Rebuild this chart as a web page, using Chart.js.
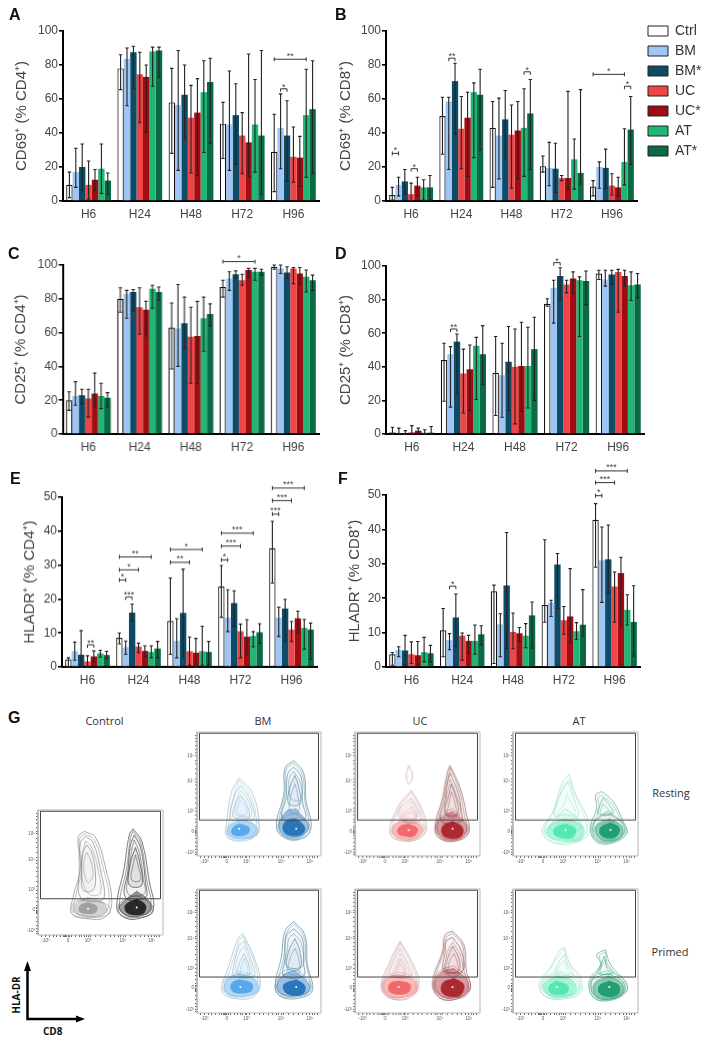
<!DOCTYPE html>
<html>
<head>
<meta charset="utf-8">
<title>T cell activation</title>
<script src="https://cdn.jsdelivr.net/npm/chart.js@4"></script>
<style>
  body { margin: 0; background: #fff; width: 709px; height: 1040px; position: relative; overflow: hidden; font-family: "Liberation Sans", Arial, sans-serif; }
  canvas { position: absolute; }
  .letter { position: absolute; font-weight: bold; font-size: 16px; color: #111; line-height: 16px; }
  .head { position: absolute; font-family: "Open Sans", sans-serif; font-size: 11px; color: #333; line-height: 14px; transform: translateX(-50%); }
  .axlab { position: absolute; font-family: "Open Sans", sans-serif; font-weight: bold; font-size: 10px; color: #111; line-height: 12px; }
  svg { position: absolute; left: 0; top: 0; }
</style>
</head>
<body>
<script>
const groups = ['H6', 'H24', 'H48', 'H72', 'H96'];
const seriesNames = ['Ctrl', 'BM', 'BM*', 'UC', 'UC*', 'AT', 'AT*'];
const seriesColors = ['#ffffff', '#9fc5f4', '#0e4b66', '#ee4547', '#a00c12', '#1fb676', '#0a6a44'];

// every row is one time point, every column one series
const aMeans = [[9.5,17,20,9.5,12.5,19,12],[78,83.5,87.5,74.5,73,88,88.5],[58,56.5,62.5,49,52,64,70],[45.5,45,50.5,38.5,34.5,45,38.5],[29,43,38.5,26,25.5,50.5,54]];
const aLow = [[2,8,6,1,6,4.5,4],[65.5,56,66,46,40.5,67.5,73],[28,18,37,16.5,15,28.5,34],[25,18,21.5,16,14.5,17,4],[5.5,19,11.5,11,8.5,14,16]];
const aHigh = [[17,31,33.5,23.5,18.5,33.5,16.5],[86,90,91,87.5,80,90.5,90.5],[78,88.5,80,68,72,82.5,84],[58,76.5,69,52,86.5,71.5,88.5],[51,63,59,43.5,38,77.5,82.5]];
const aSig = [[4,0,5,83.4,'**','h'],[4,1,2,66,'*','b']];

const bMeans = [[3.5,9.5,11.5,4,9,8,8],[50,58.5,70.5,42.5,49,64,62.5],[43,38.5,48,39,41.5,43,51.5],[20.5,19.5,19,13.5,13.5,24.5,16.5],[8.5,20,19.5,9,8,23,42]];
const bLow = [[0.5,3,4,0,3,0.5,0.5],[27.5,18.5,39.5,19,14.5,25.5,30],[8,13,25,7.5,13,14.5,18.5],[17,9,5,12,7,7,10],[3,7.5,7.5,3.5,3,9.5,21.5]];
const bHigh = [[8,14,18.5,10.5,14,12.5,15],[61,61,81,61.5,64,69.5,77.5],[58.5,60.5,65,56.5,58.5,66,71.5],[26.5,34.5,34,15,64.5,36.5,65.5],[12,23,30.5,16,14,42.5,61.5]];
const bSig = [[0,0,1,28,'*','h'],[0,3,4,19,'*','b'],[1,1,2,84,'**','b'],[2,5,6,76,'*','b'],[4,0,5,74.5,'*','h'],[4,5,6,67.5,'*','b']];

const cMeans = [[20,22.5,23,21,24,22.5,21.5],[80,83,84,75,73.5,86,84],[63,62.5,65.5,57.5,58,68.5,71],[87,92,94.5,91,97,96,96],[99,98,95.5,98,95,93,91]];
const cLow = [[14,17,18,10,16,15,16],[72,68.5,73,59,58,74.5,79],[38.5,40,50.5,30,30,49,64],[81,85,92,88,93,91,94],[97.5,95,92,89,89,84,85]];
const cHigh = [[25,31,26.5,26.5,36,30,24.5],[86.5,85,85.5,86.5,78.5,88,87],[77.5,88.5,81,75,78.5,81,77],[91,96,96.5,94.5,98,98,97.5],[100,100,99,98.5,98.5,97,94]];
const cSig = [[3,0,5,102,'*','h']];

const dMeans = [[1,0.5,0.5,1,2,0.8,0.8],[44,47.5,55,36,38.5,52.5,47.5],[36.5,35,43,40,40.5,40.5,50.5],[77.5,87,94,89,92.5,91.5,91],[95.5,92,95,96.5,94,88.5,89]];
const dLow = [[0,0,0,0,0,0,0],[19.5,16,24,12.5,14,20.5,29.5],[11,10,14,6,13.5,15.5,20],[76,66,80,84,84,58,77],[92,88,89,72.5,88,79.5,81]];
const dHigh = [[4,3.5,2,5,3.5,2.5,4.5],[54,52,59.5,50.5,53,57.5,64.5],[58,54,64,62.5,66.5,63.5,69.5],[80.5,91.5,99,91.5,96.5,93.5,97],[97.5,97.5,97.5,98,97.5,96.5,95.5]];
const dSig = [[1,1,2,62.5,'**','b'],[3,1,2,102,'*','b']];

const eMeans = [[2.2,4.6,3.6,1.6,3.1,4,3.5],[8.6,5.8,16,6,4.7,4.4,5.4],[13.5,7.7,15.9,4.6,4.2,4.6,4.4],[23.7,14.5,18.8,10.5,8.9,9.1,10.2],[35,14.5,17.2,11,14.3,11.5,11]];
const eLow = [[0,2,0,0,1.5,2.9,2.5],[6.8,3.7,13.5,4.2,3,2.7,2.7],[3.7,2.7,2.8,0.4,0,0.5,0.3],[14.6,10.4,12,2.7,3.5,5.9,7],[24.7,9,7.6,7.5,10,5.2,2.2]];
const eHigh = [[2.7,7.3,10.7,3.3,4.7,4.9,4.6],[10,7.6,18.5,7,6.2,6.2,7.5],[26.2,14.2,28.8,8.8,8.4,12,7.5],[29.9,22.7,22.4,12.6,13.9,10.4,12.7],[42.9,17.6,19.9,13.4,16.4,14,12.9]];
const eSig = [[0,3,4,6.5,'**','b'],[1,1,2,20.6,'***','b'],[1,0,1,25.6,'*','h'],[1,0,3,28.6,'*','h'],[1,0,5,32.4,'**','h'],[2,0,3,30.8,'**','h'],[2,0,5,34.6,'*','h'],[3,0,1,31.5,'*','h'],[3,0,3,35.6,'***','h'],[3,0,5,39.4,'***','h'],[4,0,1,45,'***','h'],[4,0,3,49,'***','h'],[4,0,5,52.7,'***','h']];

const fMeans = [[3.7,5,4.8,3.7,3.4,4.3,4],[10.7,7.8,14.4,9.1,7.6,7.6,9.5],[22,12.4,23.7,10.2,9.8,9.1,15],[18,18.7,29.8,13.6,14.7,10.4,12.3],[42.8,31,31.3,23.4,27.3,16.6,13.1]];
const fLow = [[0.5,3,0.5,1,0.5,1.5,1.5],[3,5,6,2,4,3.7,6.5],[1,3,5.3,5.3,7.5,5.6,5.5],[13,14.7,17,9.5,7.2,8,9],[29,18.8,21.6,13,12,12.2,3.2]];
const fHigh = [[4.2,5.9,9.2,7.3,7.4,8.6,6.3],[17,9.7,21.2,9.9,9.2,12.2,12],[23.8,15.5,39.1,15.7,11.5,12.6,18.9],[37,19.4,33,17.6,28.6,12.9,22.5],[47.5,40.7,41.3,27.6,31.9,21,23.6]];
const fSig = [[1,1,2,23.5,'*','b'],[4,0,1,49.8,'*','h'],[4,0,3,53.6,'***','h'],[4,0,5,57,'***','h']];

// flow plots: axis ticks and gate in percent of the plot frame
const flowTickLabels = ['-10³', '0', '10³', '10⁴', '10⁵'];
const flowXMajor = [6, 24, 40, 68, 91];
const flowYMajor = [3, 20, 36, 60, 81];
const flowXMinor = [3,9,12,15,18,20,21,22,23,25,27,30,33,35,37,39,42,46,50,54,58,61,64,66,70,74,78,82,85,88,93,95,97];
const flowYMinor = [1,5,8,11,14,17,18,19,21,22,24,27,30,33,39,43,47,51,54,57,62,66,70,74,77,83,86,89,92,95,97];
const gateLine = [2,29, 98,29, 98,99, 2,99, 2,29];
const frameLine = [0,0, 100,0, 100,100, 0,100, 0,0];

// contour outlines: outer, two inner, dense base, core (x,y,x,y,...)
const controlLeft = [[37,83,46,78,54,54,59,25,53,14,40,13,27,17,28,30,34,54,32,78],[38,79,44,74,50,52,53,30,47,27,34,30,33,52,34,74],[39,72,43,66,46,48,44,36,36,36,35,50,36,66],[40,30,52,26,55,19,47,15,36,15,29,19,31,26],[40,26,47,23,46,18,40,17,33,19,34,24]];
const controlRight = [[76,85,83,75,89,43,92,20,80,13,69,14,63,22,69,54,73,80],[77,80,82,70,86,42,86,30,70,30,72,52,74,72],[78,70,81,60,83,40,73,40,74,58],[79,35,89,27,90,19,80,15,70,16,65,22,70,28],[79,29,86,24,85,18,79,16,71,18,70,24]];
const bmRestLeft = [[34,63,45,50,50,26,47,16,34,12,24,16,24,28,28,52],[35,57,42,47,46,30,36,29,27,30,30,48],[35,49,40,42,42,31,35,30,29,32,31,42],[35,29,47,25,48,17,34,14,25,17,26,24],[34,26,42,23,41,18,34,16,28,18,29,23]];
const bmRestRight = [[78,77,86,67,88,44,92,23,84,14,72,14,64,23,70,50,71,71],[78,72,84,64,85,44,87,30,69,30,72,48,73,66],[79,65,82,56,83,42,74,42,75,56],[80,38,90,24,84,16,72,16,66,24,72,36],[80,30,87,23,84,17,73,17,69,23,73,29]];
const bmPrimLeft = [[37,64,46,45,51,24,45,13,29,12,20,18,26,39,33,60],[38,58,44,42,46,30,30,30,30,40,34,54],[38,48,42,38,42,30,33,31,34,40],[34,32,47,27,49,18,40,14,28,14,22,19,25,28],[34,27,44,24,44,18,35,16,28,18,28,24]];
const bmPrimRight = [[78,74,87,63,89,39,93,18,82,12,68,13,63,21,68,45,71,66],[78,68,85,60,86,40,86,30,70,30,71,44,72,62],[79,60,83,50,83,36,73,36,74,50],[79,34,90,24,90,17,80,14,68,15,64,22,70,31],[80,27,87,22,86,16,79,14,71,17,70,23]];
const ucRestLeft = [[45,53,53,39,57,22,51,14,38,12,28,18,34,39],[45,47,51,36,52,28,38,28,35,36],[45,40,49,32,45,29,38,30,39,34],[43,29,54,23,50,15,38,14,30,19,33,26],[43,26,50,22,47,16,39,16,34,19,36,24]];
const ucRestRight = [[76,73,84,55,89,34,91,19,80,12,68,14,64,23,70,47,74,68],[76,67,82,52,85,36,85,28,69,28,72,46,74,60],[77,58,81,46,82,34,72,34,74,46],[78,36,89,25,88,17,78,13,68,16,65,24,70,32],[78,28,86,23,85,16,77,14,70,17,70,24]];
const ucRestIsland = [43,73,46,65,43,58,41,65];
const ucPrimLeft = [[36,58,45,42,51,24,43,12,28,12,21,21,28,42],[36,52,42,40,45,30,28,30,30,40],[36,44,40,36,40,30,31,30,33,36],[35,31,47,27,49,18,40,13,28,13,22,20,25,28],[35,26,44,23,43,17,34,15,27,18,28,24]];
const ucPrimRight = [[78,66,87,55,89,34,92,20,80,11,68,12,62,24,70,50,72,63],[78,61,85,50,86,34,71,34,72,50,73,58],[78,54,83,44,83,34,73,34,74,44],[79,36,90,26,90,17,80,12,68,14,63,23,69,33],[79,28,87,23,85,15,79,13,70,16,70,24]];
const atRestLeft = [[45,66,50,50,58,34,61,19,47,10,32,11,23,20,32,36,39,58],[44,60,48,48,52,32,34,32,38,50],[42,38,52,30,54,22,42,18,30,22,34,30],[42,30,56,24,54,13,42,12,28,16,28,24],[42,26,50,22,48,15,41,14,33,17,34,23]];
const atRestRight = [[71,52,80,44,89,26,91,18,78,10,66,12,62,23,67,39,66,49],[72,47,78,40,80,34,68,34,70,42],[76,36,87,27,89,18,78,12,67,14,64,24,70,32],[77,30,87,24,87,16,77,12,68,15,66,24],[78,27,85,23,84,17,78,14,70,17,70,23]];
const atPrimLeft = [[41,53,46,39,54,29,54,16,37,11,25,14,21,24,30,37,37,50],[41,47,44,38,48,30,34,30,36,40],[38,32,50,27,52,18,38,13,26,16,24,24,30,30],[36,30,48,26,50,17,37,13,27,16,25,24],[35,26,44,22,43,16,35,15,29,17,29,22]];
const atPrimRight = [[74,51,78,39,89,26,91,18,76,10,64,13,61,26,70,39,67,47],[73,46,75,38,80,32,68,32,70,38],[76,32,88,25,89,17,76,11,65,14,63,26,70,30],[77,30,87,24,88,16,77,11,66,14,65,24],[77,26,85,22,84,15,77,13,69,16,69,22]];

// further contour lines between those, stroke only
const controlLeftLines = [[37,81,45,76,52,54,57,27,52,16,40,15,29,19,30,30,35,54,33,76],[38,75,43,70,48,52,50,34,42,32,36,42,35,62],[39,66,42,60,44,48,40,42,37,50,37,60],[38,28,56,24,57,17,44,14,31,15,27,21,30,27]];
const controlRightLines = [[76,83,82,74,87,44,90,22,80,15,70,16,65,23,71,54,74,78],[77,76,81,66,84,46,85,33,72,33,73,52,75,68],[78,64,80,56,82,44,75,44,76,56],[79,32,91,24,91,17,80,14,68,15,64,21,67,27]];
const bmRestLeftLines = [[34,61,43,49,48,28,45,17,34,14,26,17,26,28,30,50],[35,53,41,45,44,33,37,32,31,34,32,46],[35,45,39,40,40,34,33,34,33,40],[35,32,49,27,49,18,36,13,25,15,24,23]];
const bmRestRightLines = [[78,75,85,66,87,44,90,24,83,15,72,15,66,24,71,50,72,70],[78,68,83,60,84,46,76,46,74,58,75,64],[79,58,81,50,82,36,75,36,76,50],[80,34,91,24,87,15,72,15,65,23,71,32]];
const bmPrimLeftLines = [[37,62,45,45,49,25,44,15,30,14,22,19,28,39,34,58],[38,54,43,40,44,32,32,32,32,42,35,50],[38,44,41,36,40,31,35,32,36,38],[34,34,49,28,50,18,40,13,28,13,21,19,24,29]];
const bmPrimRightLines = [[78,72,86,62,88,40,91,20,82,14,69,15,65,22,70,45,72,64],[78,64,84,56,85,38,72,38,73,52,74,60],[79,52,82,44,82,32,74,32,75,44],[79,36,91,25,91,17,80,13,67,14,63,22,69,33]];
const ucRestLeftLines = [[45,51,52,38,55,23,50,15,38,13,30,19,35,38],[45,44,50,34,48,28,38,29,37,35],[45,36,48,30,42,29,40,32],[43,31,56,23,51,14,38,13,29,18,32,26]];
const ucRestRightLines = [[76,71,83,54,87,35,89,20,80,13,69,15,66,24,71,47,75,66],[76,62,81,49,84,34,73,34,73,48,75,56],[77,52,80,42,81,32,74,32,75,42],[78,38,90,25,89,16,78,12,67,15,64,23,70,34]];
const ucPrimLeftLines = [[36,56,44,41,49,25,42,14,29,14,23,22,29,41],[36,48,41,38,43,30,30,30,32,38],[36,40,39,33,37,29,33,30,34,34],[35,33,48,28,50,18,41,12,28,12,21,20,24,29]];
const ucPrimRightLines = [[78,64,86,54,87,35,90,21,80,13,69,14,64,25,71,50,73,61],[78,57,84,47,85,32,72,32,73,46,75,52],[79,48,82,40,82,30,75,30,75,40],[79,38,91,27,91,16,80,11,67,13,62,24,68,34]];
const atRestLeftLines = [[45,62,49,50,56,34,59,20,47,12,33,13,25,21,33,36,40,56],[43,50,46,44,50,34,36,34,41,42],[42,34,58,26,58,18,44,11,28,13,25,22,31,30],[42,28,54,24,52,15,42,13,30,15,30,24]];
const atRestRightLines = [[71,49,79,42,87,27,89,19,78,11,67,13,64,23,69,39,68,47],[72,42,77,37,79,34,70,34],[76,34,89,26,90,17,78,11,66,13,63,24,68,31],[77,28,86,25,86,15,77,13,69,15,67,23]];
const atPrimLeftLines = [[41,51,45,39,52,29,52,17,37,12,27,15,23,24,31,37,38,48],[41,42,43,36,46,31,36,31,37,38],[37,34,52,28,53,17,38,12,25,14,22,23,29,31],[36,28,46,24,46,16,36,14,28,16,27,23]];
const atPrimRightLines = [[74,49,76,39,87,26,89,19,76,12,65,14,63,26,71,38,69,46],[74,43,75,36,78,32,70,32,71,38],[76,34,90,26,90,16,76,10,64,13,62,26,69,32],[77,28,86,24,86,15,77,12,67,15,66,23]];

Chart.defaults.font.family = '"Liberation Sans", Arial, sans-serif';
Chart.defaults.animation = false;

function addCanvas(left, top, width, height) {
  const c = document.createElement('canvas');
  c.width = width;
  c.height = height;
  c.style.left = left + 'px';
  c.style.top = top + 'px';
  c.style.width = width + 'px';
  c.style.height = height + 'px';
  document.body.appendChild(c);
  return c;
}

// error bars and significance brackets, positioned through the chart's scales
const markers = {
  id: 'markers',
  afterDatasetsDraw(chart, args, opts) {
    const ctx = chart.ctx, yScale = chart.scales.y;
    ctx.save();
    ctx.strokeStyle = '#222';
    ctx.lineWidth = 1.1;
    chart.data.datasets.forEach((ds, s) => {
      chart.getDatasetMeta(s).data.forEach((bar, g) => {
        const lo = yScale.getPixelForValue(opts.low[g][s]);
        const hi = yScale.getPixelForValue(opts.high[g][s]);
        ctx.beginPath();
        ctx.moveTo(bar.x, lo); ctx.lineTo(bar.x, hi);
        ctx.moveTo(bar.x - 1.7, lo); ctx.lineTo(bar.x + 1.7, lo);
        ctx.moveTo(bar.x - 1.7, hi); ctx.lineTo(bar.x + 1.7, hi);
        ctx.stroke();
      });
    });
    ctx.strokeStyle = '#333';
    ctx.lineWidth = 1;
    ctx.fillStyle = '#444';
    ctx.font = '9px "Liberation Sans", Arial, sans-serif';
    ctx.textAlign = 'center';
    opts.sig.forEach(row => {
      const [g, from, to, val, label, kind] = row;
      const x0 = chart.getDatasetMeta(from).data[g].x;
      const x1 = chart.getDatasetMeta(to).data[g].x;
      const y = yScale.getPixelForValue(val);
      ctx.beginPath();
      ctx.moveTo(x0, y); ctx.lineTo(x1, y);
      if (kind === 'h') {
        ctx.moveTo(x0, y - 2); ctx.lineTo(x0, y + 2);
        ctx.moveTo(x1, y - 2); ctx.lineTo(x1, y + 2);
      } else {
        ctx.moveTo(x0, y); ctx.lineTo(x0, y + 3);
        ctx.moveTo(x1, y); ctx.lineTo(x1, y + 3);
      }
      ctx.stroke();
      ctx.fillText(label, (x0 + x1) / 2, kind === 'h' ? y - 0.5 : y + 1);
    });
    ctx.restore();
  }
};

function barPanel(p) {
  const canvasLeft = p.titleX - 11;
  const padTop = 40, axisH = 30, padRight = 6;
  const c = addCanvas(canvasLeft, p.top - padTop, p.right - canvasLeft + padRight, padTop + p.bottom - p.top + axisH);
  new Chart(c, {
    type: 'bar',
    plugins: [markers],
    data: {
      labels: groups,
      datasets: seriesNames.map((name, s) => ({
        label: name,
        data: p.means.map(row => row[s]),
        backgroundColor: seriesColors[s],
        borderColor: s === 0 ? '#111' : seriesColors[s],
        borderWidth: s === 0 ? 1.2 : 0,
        borderSkipped: 'bottom',
        categoryPercentage: 0.875,
        barPercentage: 1
      }))
    },
    options: {
      responsive: false,
      layout: { padding: { top: padTop, right: padRight, left: 0, bottom: 0 } },
      events: [],
      plugins: {
        legend: { display: false },
        tooltip: { enabled: false },
        markers: { low: p.low, high: p.high, sig: p.sig }
      },
      scales: {
        x: {
          afterFit: s => { s.height = axisH; },
          grid: { display: false, drawTicks: false },
          border: { display: true, color: '#000', width: 2 },
          ticks: { color: '#444', font: { size: 12 }, padding: 6, maxRotation: 0 }
        },
        y: {
          min: 0,
          max: p.yMax,
          afterFit: s => { s.width = p.left - canvasLeft; },
          grid: { drawOnChartArea: false, drawTicks: true, tickLength: 4, tickColor: '#000', lineWidth: 1.6 },
          border: { display: true, color: '#000', width: 2 },
          ticks: { stepSize: p.yStep, color: '#444', font: { size: 12 }, padding: 1 },
          title: { display: true, text: p.title, color: '#444', font: { size: 15 }, padding: { top: 2, bottom: 0 } }
        }
      }
    }
  });
}

const barPanels = [
  { means: aMeans, low: aLow, high: aHigh, sig: aSig, title: 'CD69⁺ (% CD4⁺)', yMax: 100, yStep: 20, left: 63, right: 319, top: 30.7, bottom: 201, titleX: 22 },
  { means: bMeans, low: bLow, high: bHigh, sig: bSig, title: 'CD69⁺ (% CD8⁺)', yMax: 100, yStep: 20, left: 386, right: 637, top: 30.7, bottom: 201, titleX: 346 },
  { means: cMeans, low: cLow, high: cHigh, sig: cSig, title: 'CD25⁺ (% CD4⁺)', yMax: 100, yStep: 20, left: 62.5, right: 318.5, top: 265.3, bottom: 434.3, titleX: 21 },
  { means: dMeans, low: dLow, high: dHigh, sig: dSig, title: 'CD25⁺ (% CD8⁺)', yMax: 100, yStep: 20, left: 386, right: 644, top: 266, bottom: 434.3, titleX: 346 },
  { means: eMeans, low: eLow, high: eHigh, sig: eSig, title: 'HLADR⁺ (% CD4⁺)', yMax: 50, yStep: 10, left: 62, right: 317, top: 497.3, bottom: 667, titleX: 30 },
  { means: fMeans, low: fLow, high: fHigh, sig: fSig, title: 'HLADR⁺ (% CD8⁺)', yMax: 50, yStep: 10, left: 386, right: 640, top: 495, bottom: 667, titleX: 355 }
];
barPanels.forEach(barPanel);

// legend sits in its own small chart right of panel B; a side legend gets half the canvas at most
new Chart(addCanvas(642, 18, 160, 150), {
  type: 'bar',
  data: {
    labels: [],
    datasets: seriesNames.map((name, s) => ({ label: name, data: [], backgroundColor: seriesColors[s], borderColor: '#222', borderWidth: 1 }))
  },
  options: {
    responsive: false,
    events: [],
    scales: { x: { display: false }, y: { display: false } },
    plugins: {
      tooltip: { enabled: false },
      legend: {
        position: 'left',
        align: 'start',
        labels: { boxWidth: 20, boxHeight: 10, padding: 6, color: '#333', font: { size: 14 } }
      }
    }
  }
});

function pairs(flat) {
  const pts = [];
  for (let i = 0; i < flat.length; i += 2) pts.push({ x: flat[i], y: flat[i + 1] });
  return pts;
}
function closed(flat) {
  return pairs(flat.concat(flat.slice(0, 2)));
}

const ringAlpha = [0.02, 0.04, 0.07, 0.4, 0.85];
const ringWidth = [0.7, 0.7, 0.7, 0.6, 0.5];

function flowPlot(p) {
  const axisW = 14, axisH = 12, pad = 2;
  const c = addCanvas(p.x - axisW, p.y - pad, p.w + axisW + pad, p.h + pad + axisH);
  const sets = [];
  const lobe = (rings, lines, rgb, lineColor) => {
    rings.forEach((flat, i) => {
      sets.push({
        data: closed(flat), showLine: true, tension: 0.4, pointRadius: 0, clip: false,
        borderColor: i < 3 ? lineColor : 'rgba(' + rgb + ',0.7)',
        borderWidth: ringWidth[i],
        fill: 'shape',
        backgroundColor: 'rgba(' + rgb + ',' + ringAlpha[i] + ')'
      });
    });
    lines.forEach(flat => {
      sets.push({ data: closed(flat), showLine: true, tension: 0.4, pointRadius: 0, borderColor: lineColor, borderWidth: 0.5, fill: false });
    });
  };
  lobe(p.leftLobe, p.leftLines, p.leftRgb, p.line);
  lobe(p.rightLobe, p.rightLines, p.rightRgb, p.rightLine);
  if (p.island) {
    sets.push({ data: closed(p.island), showLine: true, tension: 0.4, pointRadius: 0, borderColor: p.line, borderWidth: 0.7, fill: false });
  }
  sets.push({ data: pairs(p.spots), showLine: false, pointRadius: 1, pointBorderWidth: 0, pointBackgroundColor: '#fff' });
  sets.push({ data: pairs(frameLine), showLine: true, tension: 0, pointRadius: 0, borderColor: '#b5b5b5', borderWidth: 1, fill: false, clip: false });
  sets.push({ data: pairs(gateLine), showLine: true, tension: 0, pointRadius: 0, borderColor: '#444', borderWidth: 1, fill: false, clip: false });
  sets.forEach((s, i) => { s.order = -i; });

  const tickScale = (major, minor, size) => ({
    type: 'linear', min: 0, max: 100,
    afterFit: s => { if (size === 'w') s.width = axisW; else s.height = axisH; },
    afterBuildTicks: s => { s.ticks = major.concat(minor).sort((a, b) => a - b).map(v => ({ value: v })); },
    grid: { drawOnChartArea: false, drawTicks: true, tickLength: 2, tickColor: '#222', lineWidth: 0.7 },
    border: { display: false },
    ticks: {
      autoSkip: false, maxRotation: 0, padding: 1, color: '#555', font: { size: 4.5 },
      callback: v => { const i = major.indexOf(v); return i < 0 ? '' : flowTickLabels[i]; }
    }
  });

  new Chart(c, {
    type: 'scatter',
    data: { datasets: sets },
    options: {
      responsive: false,
      events: [],
      layout: { padding: { top: pad, right: pad, left: 0, bottom: 0 } },
      plugins: { legend: { display: false }, tooltip: { enabled: false } },
      scales: { x: tickScale(flowXMajor, flowXMinor, 'h'), y: tickScale(flowYMajor, flowYMinor, 'w') }
    }
  });
}

const greys = { line: '#8a8a8a', rightLine: '#444', leftRgb: '150,150,150', rightRgb: '20,20,20' };
const blues = { line: '#9fc0c8', rightLine: '#5a8a9c', leftRgb: '70,160,235', rightRgb: '20,105,180' };
const reds = { line: '#c4a0a0', rightLine: '#8f5c5c', leftRgb: '240,90,95', rightRgb: '165,20,30' };
const greens = { line: '#a0e0c8', rightLine: '#55ae8e', leftRgb: '70,230,170', rightRgb: '15,150,100' };

[
  { ...greys, x: 37.7, y: 808, w: 127.3, h: 127, leftLobe: controlLeft, rightLobe: controlRight, leftLines: controlLeftLines, rightLines: controlRightLines, spots: [40,21,79,22] },
  { ...blues, x: 196.7, y: 730, w: 126.3, h: 125.7, leftLobe: bmRestLeft, rightLobe: bmRestRight, leftLines: bmRestLeftLines, rightLines: bmRestRightLines, spots: [34,22,80,22] },
  { ...blues, x: 196.7, y: 886.7, w: 126.3, h: 126.3, leftLobe: bmPrimLeft, rightLobe: bmPrimRight, leftLines: bmPrimLeftLines, rightLines: bmPrimRightLines, spots: [35,21,80,21] },
  { ...reds, x: 355, y: 730, w: 126.7, h: 125.7, leftLobe: ucRestLeft, rightLobe: ucRestRight, leftLines: ucRestLeftLines, rightLines: ucRestRightLines, island: ucRestIsland, spots: [43,21,78,22] },
  { ...reds, x: 355, y: 886.7, w: 126.7, h: 126.3, leftLobe: ucPrimLeft, rightLobe: ucPrimRight, leftLines: ucPrimLeftLines, rightLines: ucPrimRightLines, spots: [35,21,78,21] },
  { ...greens, x: 513, y: 730, w: 127, h: 125.7, leftLobe: atRestLeft, rightLobe: atRestRight, leftLines: atRestLeftLines, rightLines: atRestRightLines, spots: [42,21,78,21] },
  { ...greens, x: 513, y: 886.7, w: 127, h: 126.3, leftLobe: atPrimLeft, rightLobe: atPrimRight, leftLines: atPrimLeftLines, rightLines: atPrimRightLines, spots: [35,21,77,21] }
].forEach(flowPlot);

// panel letters and headings
function addText(cls, text, left, top) {
  const d = document.createElement('div');
  d.className = cls;
  d.textContent = text;
  d.style.left = left + 'px';
  d.style.top = top + 'px';
  document.body.appendChild(d);
  return d;
}
[['A',9,7],['B',335,7],['C',8,246],['D',335,246],['E',10,471],['F',338,471],['G',8,710]].forEach(l => addText('letter', l[0], l[1], l[2]));
[['Control',104.5,714],['BM',263,714],['UC',420,714],['AT',579,714],['Resting',671,786],['Primed',670,945]].forEach(h => addText('head', h[0], h[1], h[2]));
addText('axlab', 'CD8', 43, 1025);
addText('axlab', 'HLA-DR', 0, 989).style.cssText += 'left:-3px;transform:rotate(-90deg);';
</script>
<svg width="709" height="1040">
  <path d="M27.5 968V1019H78" fill="none" stroke="#000" stroke-width="2.5"/>
  <path d="M27.5 961L24 971H31Z M85 1019L76 1015.5V1022.5Z" fill="#000"/>
</svg>
</body>
</html>
